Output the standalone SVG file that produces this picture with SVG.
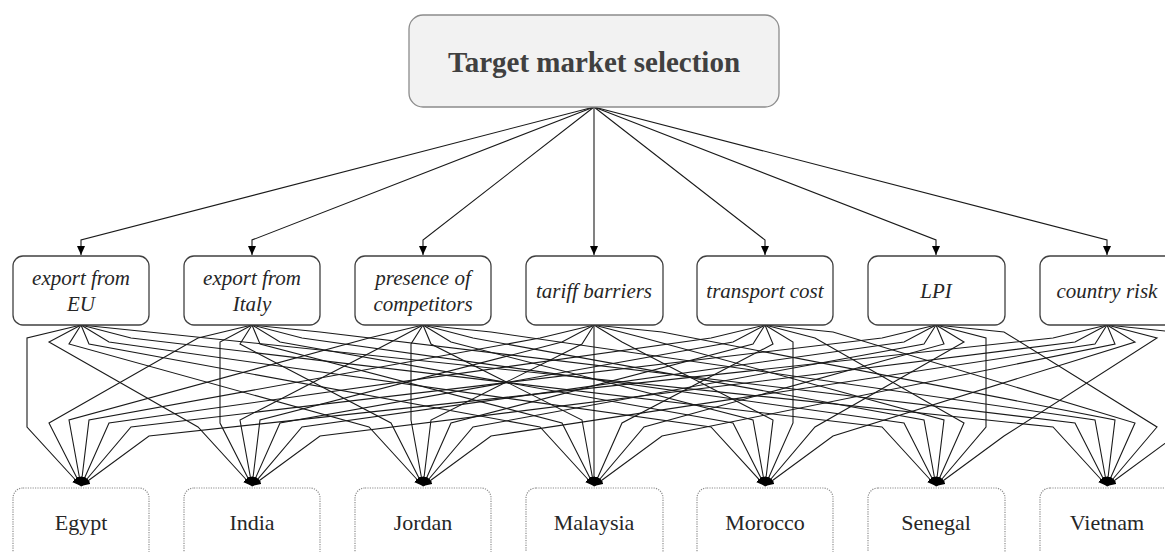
<svg xmlns="http://www.w3.org/2000/svg" width="1165" height="552" viewBox="0 0 1165 552">
<style>
.top{fill:#f2f2f2;stroke:#8c8c8c;stroke-width:1.3}
.crit{fill:#ffffff;stroke:#404040;stroke-width:1.3}
.ctry{fill:#ffffff;stroke:#8c8c8c;stroke-width:1.2;stroke-dasharray:1.2 1.2}
.tt{font-family:"Liberation Serif",serif;font-weight:bold;font-size:29px;fill:#404040;text-anchor:middle}
.ct{font-family:"Liberation Serif",serif;font-style:italic;font-size:21px;fill:#262626;text-anchor:middle}
.nt{font-family:"Liberation Serif",serif;font-size:22px;fill:#262626;text-anchor:middle}
.e{fill:none;stroke:#1a1a1a;stroke-width:1.1;marker-end:url(#ah)}
</style>
<defs>
<marker id="ah" markerUnits="userSpaceOnUse" markerWidth="9" markerHeight="8" refX="9" refY="4" orient="auto">
<path d="M0,0 L9,4 L0,8 z" fill="#000"/>
</marker>
</defs>
<rect width="1165" height="552" fill="#ffffff"/>
<g id="connectors">
<path class="e" d="M594 107 L81 240 L81 255"/>
<path class="e" d="M594 107 L252 240 L252 255"/>
<path class="e" d="M594 107 L423 240 L423 255"/>
<path class="e" d="M594 107 L594 255"/>
<path class="e" d="M594 107 L765 240 L765 255"/>
<path class="e" d="M594 107 L936 240 L936 255"/>
<path class="e" d="M594 107 L1107 240 L1107 255"/>

<path class="e" d="M81 325 L27 338 L27 427 L81 486"/>
<path class="e" d="M81 325 L49 342 L198 427 L252 486"/>
<path class="e" d="M81 325 L69 344 L369 427 L423 486"/>
<path class="e" d="M81 325 L89 344 L540 427 L594 486"/>
<path class="e" d="M81 325 L109 342 L711 427 L765 486"/>
<path class="e" d="M81 325 L131 338 L882 427 L936 486"/>
<path class="e" d="M81 325 L149 332 L1053 427 L1107 486"/>

<path class="e" d="M252 325 L198 338 L49 423 L81 486"/>
<path class="e" d="M252 325 L220 342 L220 423 L252 486"/>
<path class="e" d="M252 325 L240 344 L391 423 L423 486"/>
<path class="e" d="M252 325 L260 344 L562 423 L594 486"/>
<path class="e" d="M252 325 L280 342 L733 423 L765 486"/>
<path class="e" d="M252 325 L302 338 L904 423 L936 486"/>
<path class="e" d="M252 325 L320 332 L1075 423 L1107 486"/>

<path class="e" d="M423 325 L369 338 L69 420 L81 486"/>
<path class="e" d="M423 325 L391 342 L240 420 L252 486"/>
<path class="e" d="M423 325 L411 344 L411 420 L423 486"/>
<path class="e" d="M423 325 L431 344 L582 420 L594 486"/>
<path class="e" d="M423 325 L451 342 L753 420 L765 486"/>
<path class="e" d="M423 325 L473 338 L924 420 L936 486"/>
<path class="e" d="M423 325 L491 332 L1095 420 L1107 486"/>

<path class="e" d="M594 325 L540 338 L89 420 L81 486"/>
<path class="e" d="M594 325 L562 342 L260 420 L252 486"/>
<path class="e" d="M594 325 L582 344 L431 420 L423 486"/>
<path class="e" d="M594 325 L594 486"/>
<path class="e" d="M594 325 L622 342 L773 420 L765 486"/>
<path class="e" d="M594 325 L644 338 L944 420 L936 486"/>
<path class="e" d="M594 325 L662 332 L1115 420 L1107 486"/>

<path class="e" d="M765 325 L711 338 L109 423 L81 486"/>
<path class="e" d="M765 325 L733 342 L280 423 L252 486"/>
<path class="e" d="M765 325 L753 344 L451 423 L423 486"/>
<path class="e" d="M765 325 L773 344 L622 423 L594 486"/>
<path class="e" d="M765 325 L793 342 L793 423 L765 486"/>
<path class="e" d="M765 325 L815 338 L964 423 L936 486"/>
<path class="e" d="M765 325 L833 332 L1135 423 L1107 486"/>

<path class="e" d="M936 325 L882 338 L131 427 L81 486"/>
<path class="e" d="M936 325 L904 342 L302 427 L252 486"/>
<path class="e" d="M936 325 L924 344 L473 427 L423 486"/>
<path class="e" d="M936 325 L944 344 L644 427 L594 486"/>
<path class="e" d="M936 325 L964 342 L815 427 L765 486"/>
<path class="e" d="M936 325 L986 338 L986 427 L936 486"/>
<path class="e" d="M936 325 L1004 332 L1157 427 L1107 486"/>

<path class="e" d="M1107 325 L1053 338 L149 436 L81 486"/>
<path class="e" d="M1107 325 L1075 342 L320 436 L252 486"/>
<path class="e" d="M1107 325 L1095 344 L491 436 L423 486"/>
<path class="e" d="M1107 325 L1115 344 L662 436 L594 486"/>
<path class="e" d="M1107 325 L1135 342 L833 436 L765 486"/>
<path class="e" d="M1107 325 L1157 338 L1004 436 L936 486"/>
<path class="e" d="M1107 325 L1175 332 L1175 436 L1107 486"/>
</g>

<g id="target">
<rect class="top" x="409" y="15" width="370" height="92" rx="14"/>
<text class="tt" x="594" y="72">Target market selection</text>
</g>

<g id="c-eu"><rect class="crit" x="13" y="256" width="136" height="69" rx="10"/>
<text class="ct" x="81" y="285">export from</text><text class="ct" x="81" y="311">EU</text></g>
<g id="c-italy"><rect class="crit" x="184" y="256" width="136" height="69" rx="10"/>
<text class="ct" x="252" y="285">export from</text><text class="ct" x="252" y="311">Italy</text></g>
<g id="c-presence"><rect class="crit" x="355" y="256" width="136" height="69" rx="10"/>
<text class="ct" x="423" y="285">presence of</text><text class="ct" x="423" y="311">competitors</text></g>
<g id="c-tariff"><rect class="crit" x="526" y="256" width="137" height="69" rx="10"/>
<text class="ct" x="594" y="298">tariff barriers</text></g>
<g id="c-transport"><rect class="crit" x="697" y="256" width="136" height="69" rx="10"/>
<text class="ct" x="765" y="298">transport cost</text></g>
<g id="c-lpi"><rect class="crit" x="868" y="256" width="137" height="69" rx="10"/>
<text class="ct" x="936" y="298">LPI</text></g>
<g id="c-risk"><rect class="crit" x="1040" y="256" width="137" height="69" rx="10"/>
<text class="ct" x="1107" y="298">country risk</text></g>

<g id="n-egypt"><rect class="ctry" x="13" y="488" width="136" height="80" rx="10"/>
<text class="nt" x="81" y="530">Egypt</text></g>
<g id="n-india"><rect class="ctry" x="184" y="488" width="136" height="80" rx="10"/>
<text class="nt" x="252" y="530">India</text></g>
<g id="n-jordan"><rect class="ctry" x="355" y="488" width="136" height="80" rx="10"/>
<text class="nt" x="423" y="530">Jordan</text></g>
<g id="n-malaysia"><rect class="ctry" x="526" y="488" width="137" height="80" rx="10"/>
<text class="nt" x="594" y="530">Malaysia</text></g>
<g id="n-morocco"><rect class="ctry" x="697" y="488" width="136" height="80" rx="10"/>
<text class="nt" x="765" y="530">Morocco</text></g>
<g id="n-senegal"><rect class="ctry" x="868" y="488" width="137" height="80" rx="10"/>
<text class="nt" x="936" y="530">Senegal</text></g>
<g id="n-vietnam"><rect class="ctry" x="1040" y="488" width="137" height="80" rx="10"/>
<text class="nt" x="1107" y="530">Vietnam</text></g>
</svg>
